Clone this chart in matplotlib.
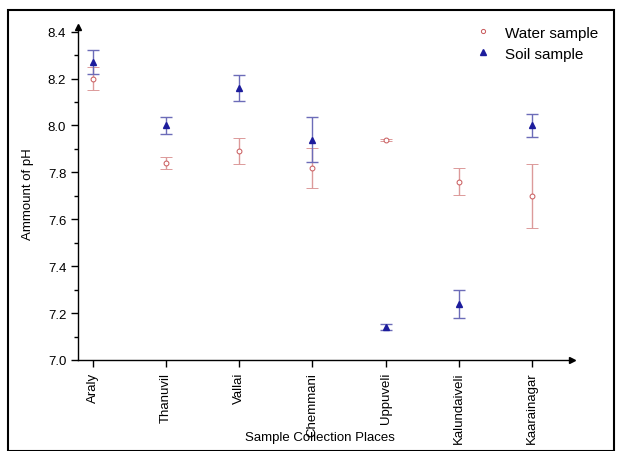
import matplotlib
matplotlib.use("Agg")
import matplotlib.pyplot as plt
from matplotlib.patches import Rectangle
from matplotlib.lines import Line2D

plt.rcParams['font.family'] = ['Liberation Sans', 'DejaVu Sans']

places = ["Araly", "Thanuvil", "Vallai", "Chemmani", "Uppuveli", "Kalundaiveli", "Kaarainagar"]
water_ph = [8.20, 7.84, 7.89, 7.82, 7.94, 7.76, 7.70]
water_err = [0.05, 0.025, 0.055, 0.085, 0.004, 0.057, 0.135]
soil_ph = [8.27, 8.00, 8.16, 7.94, 7.14, 7.24, 8.00]
soil_err = [0.05, 0.038, 0.055, 0.095, 0.012, 0.06, 0.047]
y_ticks = [7.0, 7.2, 7.4, 7.6, 7.8, 8.0, 8.2, 8.4]

water_color = '#c8585a'
soil_color = '#1c1c9c'

fig = plt.figure(figsize=(6.2, 4.52), dpi=100)
fig.patches.append(Rectangle((8/620, 0.0), 606/620, 1 - 11/452, transform=fig.transFigure,
                             fill=False, edgecolor='black', linewidth=1.5))
ax = fig.add_axes([78/620, 1 - 361/452, (572 - 78)/620, (361 - 28)/452])

x = list(range(len(places)))
ax.errorbar(x, water_ph, yerr=water_err, fmt='o', ms=3.5, mfc='white', mec=water_color,
            mew=0.7, ecolor='#dc9a9a', elinewidth=1, capsize=4, capthick=1, zorder=3)
ax.errorbar(x, soil_ph, yerr=soil_err, fmt='^', ms=4.5, mfc=soil_color, mec=soil_color,
            ecolor='#6c6cb8', elinewidth=1, capsize=4, capthick=1, zorder=4)

ax.set_xlim(-0.205, 6.55)
ax.set_ylim(7.0, 8.42)
ax.set_yticks(y_ticks)
ax.set_yticklabels([f"{v:.1f}" for v in y_ticks])
ax.set_yticks([7.1, 7.3, 7.5, 7.7, 7.9, 8.1, 8.3], minor=True)
ax.set_xticks(x)
ax.set_xticklabels(places, rotation=90)
ax.tick_params(axis='both', direction='out', labelsize=9.5, length=5, width=1)
ax.tick_params(axis='y', which='minor', direction='out', length=3, width=1)

for side in ('top', 'right'):
    ax.spines[side].set_visible(False)
for side in ('left', 'bottom'):
    ax.spines[side].set_linewidth(1)
ax.plot(1, 0, '>k', ms=5, transform=ax.transAxes, clip_on=False)
ax.plot(0, 1, '^k', ms=5, transform=ax.transAxes, clip_on=False)

ax.set_ylabel('Ammount of pH', fontsize=9.5, labelpad=10)
fig.text(320/620, 1 - 438/452, 'Sample Collection Places', ha='center', va='center', fontsize=9.5)

handles = [
    Line2D([], [], ls='none', marker='o', ms=3, mfc='white', mec=water_color, mew=0.7),
    Line2D([], [], ls='none', marker='^', ms=4, mfc=soil_color, mec=soil_color),
]
ax.legend(handles, ['Water sample', 'Soil sample'], loc='upper right',
          bbox_to_anchor=(1.08, 1.045), frameon=False, fontsize=11,
          handletextpad=0.8, labelspacing=0.45, handlelength=1.2)

fig.savefig('out.png', dpi=100)
